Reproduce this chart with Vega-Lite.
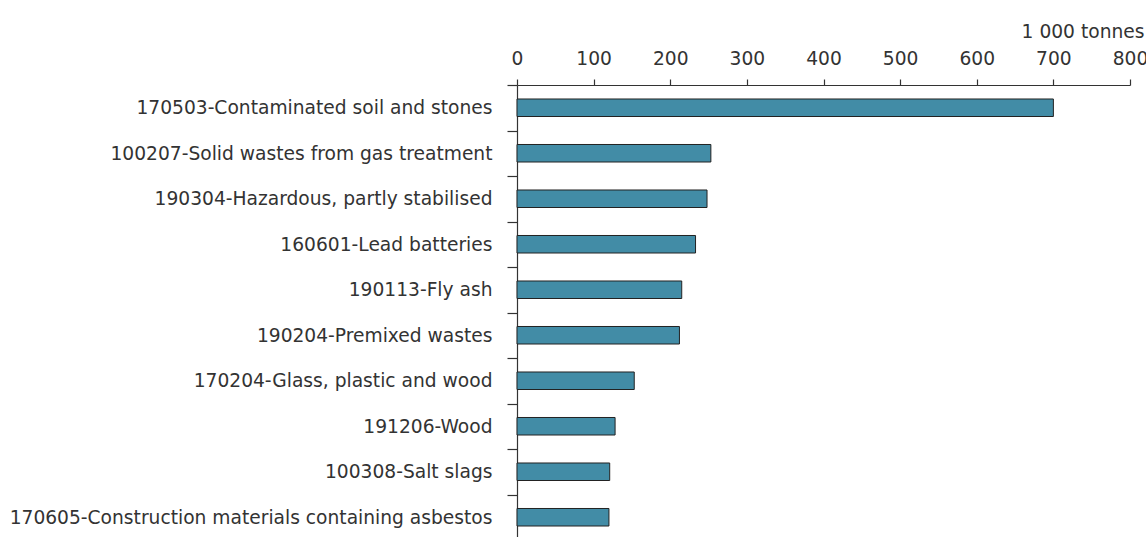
{
  "$schema": "https://vega.github.io/schema/vega-lite/v6.json",
  "autosize": {"type": "none"},
  "padding": {"left": 517, "top": 85, "right": 16, "bottom": 0},
  "width": 613,
  "height": 455,
  "background": "white",
  "config": {
    "view": {"stroke": null},
    "font": "DejaVu Sans",
    "axis": {
      "labelFont": "DejaVu Sans",
      "titleFont": "DejaVu Sans",
      "labelFontSize": 18.67,
      "titleFontSize": 18.67,
      "labelColor": "#333333",
      "titleColor": "#333333",
      "domainColor": "#333333",
      "tickColor": "#333333",
      "titleFontWeight": "normal",
      "grid": false,
      "domainWidth": 1.2,
      "tickWidth": 1.2
    }
  },
  "data": {
    "values": [
      {"waste": "170503-Contaminated soil and stones", "value": 700},
      {"waste": "100207-Solid wastes from gas treatment", "value": 253},
      {"waste": "190304-Hazardous, partly stabilised", "value": 248},
      {"waste": "160601-Lead batteries", "value": 233},
      {"waste": "190113-Fly ash", "value": 215},
      {"waste": "190204-Premixed wastes", "value": 212},
      {"waste": "170204-Glass, plastic and wood", "value": 153},
      {"waste": "191206-Wood", "value": 128},
      {"waste": "100308-Salt slags", "value": 121},
      {"waste": "170605-Construction materials containing asbestos", "value": 120}
    ]
  },
  "mark": {"type": "bar", "fill": "#428CA6", "stroke": "#222222", "strokeWidth": 1, "height": {"band": 0.385}},
  "encoding": {
    "y": {
      "field": "waste",
      "type": "nominal",
      "sort": null,
      "scale": {"paddingInner": 0, "paddingOuter": 0},
      "axis": {"title": null, "tickBand": "extent", "tickSize": 10, "labelPadding": 15, "labelLimit": 600}
    },
    "x": {
      "field": "value",
      "type": "quantitative",
      "scale": {"domain": [0, 800], "nice": false},
      "axis": {
        "orient": "top",
        "values": [0, 100, 200, 300, 400, 500, 600, 700, 800],
        "title": "1 000 tonnes",
        "titleAnchor": "end",
        "titleAlign": "right",
        "titleBaseline": "alphabetic",
        "titleX": 627,
        "titleY": -48,
        "tickSize": 6,
        "labelPadding": 11,
        "labelFlush": false
      }
    }
  }
}
